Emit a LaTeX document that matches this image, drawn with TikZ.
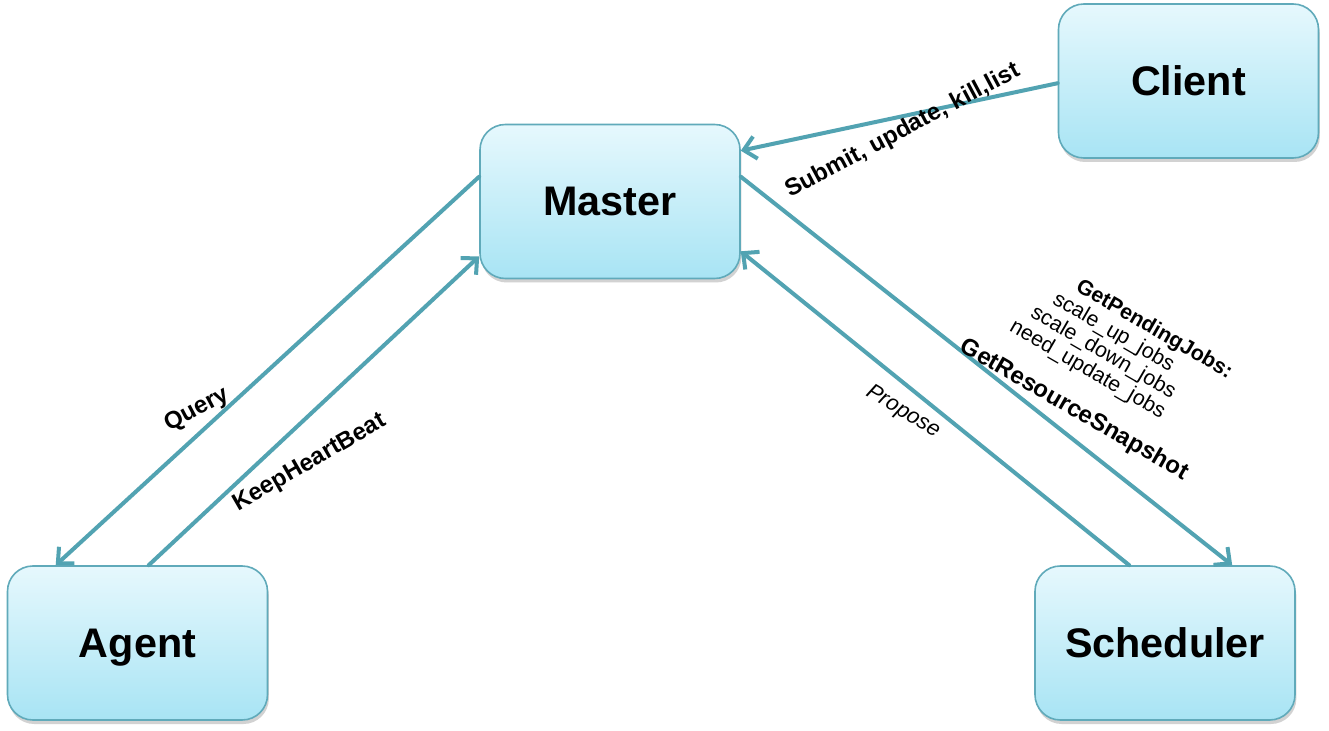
\documentclass[tikz,border=0pt]{standalone}
\usepackage{fontspec}
\setmainfont{Liberation Sans}
\usetikzlibrary{arrows.meta,shadows,calc}
\definecolor{edgec}{RGB}{82,163,178}
\definecolor{boxline}{RGB}{96,170,186}
\definecolor{boxtop}{RGB}{230,248,253}
\definecolor{boxbot}{RGB}{168,228,244}
\begin{document}
\begin{tikzpicture}[x=0.75pt,y=-0.75pt,
  box/.style={draw=boxline, line width=1.2pt, rounded corners=19pt,
    minimum width=195pt, minimum height=115.5pt, inner sep=0pt,
    text depth=0pt,
    top color=boxtop, bottom color=boxbot,
    drop shadow={shadow xshift=1pt, shadow yshift=-3pt, opacity=0.25, fill=black!70},
    font=\bfseries\fontsize{31}{36}\selectfont},
  conn/.style={draw=edgec, line width=3pt, line cap=round,
    -{Straight Barb[length=9pt,width=17pt]}},
  lab/.style={font=\bfseries\fontsize{18}{21}\selectfont, inner sep=0pt},
  ital/.style={font=\itshape\fontsize{16.5}{20}\selectfont, inner sep=0pt},
  multi/.style={font=\fontsize{16}{17}\selectfont, inner sep=0pt, align=left}
]
\fill[white] (0,0) rectangle (1329,731);
\useasboundingbox (0,0) rectangle (1329,731);

\node[box] (master) at (610,201.5) {Master};
\node[box] (client) at (1188.5,81) {Client};
\node[box] (agent)  at (137.5,643) {Agent};
\node[box] (sched)  at (1165,643) {Scheduler};

\draw[conn] ($(master.north west)+(0,53)$) -- ($(agent.north west)+(49,0)$);
\draw[conn] ($(agent.north west)+(142,0)$) -- ($(master.south west)+(0,-23)$);
\draw[conn] ($(client.north west)+(0,80)$) -- ($(master.north east)+(0,27)$);
\draw[conn] ($(master.north east)+(0,53)$) -- ($(sched.north west)+(198,0)$);
\draw[conn] ($(sched.north west)+(95,0)$) -- ($(master.south east)+(0,-28)$);

\node[lab, rotate=28] (lquery) at (197,410) {Query};
\node[lab, rotate=30] (lkeep) at (310,463) {KeepHeartBeat};
\node[lab, rotate=28] (lsubmit) at (903,131) {Submit, update, kill,list};
\node[ital, rotate=-31] (lprop) at (903,412) {Propose};
\node[lab, rotate=-30] (lsnap) at (1074,410) {GetResourceSnapshot};
\node[multi, rotate=-30] (lpend) at (1121,350)
  {\hspace*{28pt}\textbf{GetPendingJobs:}\\
   \hspace*{17.6pt}scale\_up\_jobs\\
   \hspace*{8.3pt}scale\_down\_jobs\\
   need\_update\_jobs};
\end{tikzpicture}
\end{document}
